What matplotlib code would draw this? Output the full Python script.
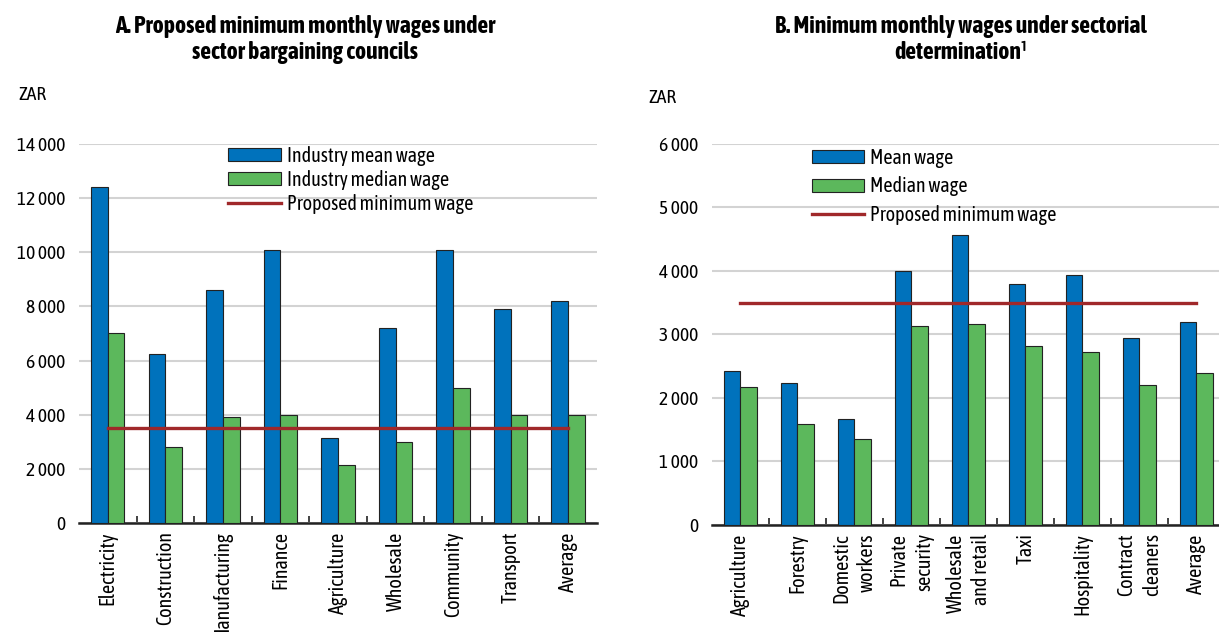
import numpy as np
import matplotlib
matplotlib.use("Agg")
import matplotlib.pyplot as plt
from matplotlib import font_manager
from matplotlib.patches import Patch
from matplotlib.lines import Line2D

# use a condensed face if one happens to be installed, preferring one with a bold weight
weights = {}
for f in font_manager.fontManager.ttflist:
    if "Narrow" in f.name or "Condensed" in f.name:
        w = f.weight if isinstance(f.weight, int) else 400
        weights[f.name] = max(weights.get(f.name, 0), w)
narrow = sorted(weights, key=lambda n: (weights[n] < 700, "Condensed" not in n, n))
plt.rcParams['font.family'] = narrow[:1] + ['Liberation Sans', 'DejaVu Sans']

# Panel A data
a_labels = ["Electricity", "Construction", "Manufacturing", "Finance", "Agriculture",
            "Wholesale", "Community", "Transport", "Average"]
a_mean = [12400, 6250, 8600, 10100, 3150, 7200, 10100, 7900, 8200]
a_median = [7000, 2800, 3900, 4000, 2150, 3000, 5000, 4000, 4000]
a_min = 3500

# Panel B data
b_labels = ["Agriculture", "Forestry", "Domestic\nworkers", "Private\nsecurity",
            "Wholesale\nand retail", "Taxi", "Hospitality", "Contract\ncleaners", "Average"]
b_mean = [2420, 2230, 1670, 4000, 4560, 3800, 3940, 2940, 3190]
b_median = [2180, 1590, 1360, 3140, 3170, 2820, 2720, 2200, 2400]
b_min = 3500

BLUE = "#0072BC"
GREEN = "#5CB85C"
RED = "#A0282A"
GRID = "#D3D3D3"
EDGE = "#222222"

fig = plt.figure(figsize=(12.19, 6.32), dpi=100)
axA = fig.add_axes([0.0648, 0.1725, 0.4249, 0.5997])
axB = fig.add_axes([0.584, 0.1693, 0.416, 0.6029])


def draw(ax, labels, mean, median, minw, ymax, ystep, xmax, leg_labels, leg_pos, labelspacing):
    x = np.arange(len(labels))
    w = 0.29
    ax.bar(x - w / 2, mean, w, color=BLUE, edgecolor=EDGE, linewidth=0.8, zorder=3)
    ax.bar(x + w / 2, median, w, color=GREEN, edgecolor=EDGE, linewidth=0.8, zorder=3)
    ax.plot([x[0], x[-1]], [minw, minw], color=RED, linewidth=2.4, zorder=4)

    ax.set_xlim(-0.5, xmax)
    ax.set_ylim(0, ymax)
    yt = np.arange(0, ymax + 1, ystep)
    ax.set_yticks(yt)
    ax.set_yticklabels([f"{int(v):,}".replace(",", " ") for v in yt], fontsize=14)
    ax.tick_params(axis="y", length=0, pad=10)
    ax.grid(axis="y", color=GRID, linewidth=1.5, zorder=0)
    ax.set_axisbelow(True)

    ax.set_xticks(x)
    ax.set_xticklabels(labels, rotation=90, fontsize=14.5, ha="center", va="top",
                       multialignment="right", linespacing=1.35)
    ax.tick_params(axis="x", which="major", length=0, pad=6)
    ax.set_xticks(np.arange(0.5, len(labels) - 0.5, 1), minor=True)
    ax.tick_params(axis="x", which="minor", direction="in", length=5, width=1.2, color=EDGE)

    for s in ["top", "right", "left"]:
        ax.spines[s].set_visible(False)
    ax.spines["bottom"].set_linewidth(1.8)
    ax.spines["bottom"].set_color(EDGE)

    handles = [Patch(facecolor=BLUE, edgecolor=EDGE, linewidth=0.8),
               Patch(facecolor=GREEN, edgecolor=EDGE, linewidth=0.8),
               Line2D([0], [0], color=RED, linewidth=2.4)]
    ax.legend(handles, leg_labels, loc="upper left", bbox_to_anchor=leg_pos, frameon=False,
              fontsize=14.5, handlelength=2.6, handleheight=0.6, handletextpad=0.3,
              labelspacing=labelspacing, borderpad=0, borderaxespad=0)


draw(axA, a_labels, a_mean, a_median, a_min, 14000, 2000, 8.5,
     ["Industry mean wage", "Industry median wage", "Proposed minimum wage"],
     (0.288, 0.995), 0.2)
draw(axB, b_labels, b_mean, b_median, b_min, 6000, 1000, 8.4,
     ["Mean wage", "Median wage", "Proposed minimum wage"],
     (0.197, 0.99), 0.42)

fig.text(0.25, 0.977, "A. Proposed minimum monthly wages under\nsector bargaining councils",
         ha="center", va="top", fontsize=17, fontweight="bold", linespacing=1.2)
fig.text(0.788, 0.977, "B. Minimum monthly wages under sectorial\ndetermination\u00b9",
         ha="center", va="top", fontsize=17, fontweight="bold", linespacing=1.2)
fig.text(0.015, 0.85, "ZAR", fontsize=14, va="center")
fig.text(0.532, 0.845, "ZAR", fontsize=14, va="center")

fig.savefig("out.png", dpi=100)
